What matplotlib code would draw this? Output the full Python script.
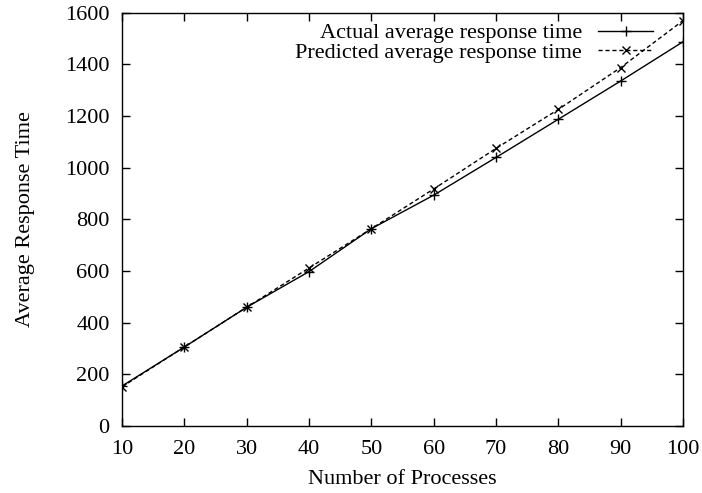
import matplotlib
matplotlib.use('Agg')
import matplotlib.pyplot as plt

processes = [10, 20, 30, 40, 50, 60, 70, 80, 90, 100]
actual = [155, 306, 460, 598, 764, 894, 1040, 1188, 1336, 1488]
predicted = [152, 306, 460, 612, 764, 918, 1075, 1226, 1388, 1570]

plt.rcParams['font.family'] = ['Liberation Serif', 'DejaVu Serif']
plt.rcParams['font.size'] = 16

fig = plt.figure(figsize=(7.02, 4.93), dpi=100)
ax = fig.add_axes([0.174, 0.136, 0.799, 0.838])

ax.plot(processes, actual, color='black', linewidth=1, marker='+', markersize=7,
        markeredgewidth=1, label='Actual average response time')
ax.plot(processes, predicted, color='black', linewidth=1, linestyle=(0, (3, 2)), marker='x',
        markersize=6, markeredgewidth=1, label='Predicted average response time')

ax.set_xlim(10, 100)
ax.set_ylim(0, 1600)
ax.set_xticks(range(10, 101, 10))
ax.set_yticks(range(0, 1601, 200))
ax.tick_params(direction='in', length=6, width=1, top=True, right=True)
ax.tick_params(axis='x', pad=10)
ax.tick_params(axis='y', pad=9)
for s in ax.spines.values():
    s.set_linewidth(1)

ax.set_xlabel('Number of Processes', labelpad=8)
ax.set_ylabel('Average Response Time', labelpad=22)

ax.legend(loc='upper right', bbox_to_anchor=(0.947, 0.976), frameon=False, markerfirst=False,
          handlelength=2.5, borderaxespad=0, borderpad=0, labelspacing=-0.05,
          handletextpad=0.7, fontsize=16)

fig.savefig('out.png', dpi=100)
